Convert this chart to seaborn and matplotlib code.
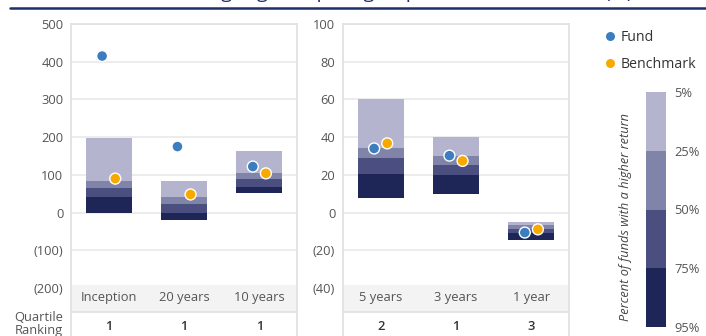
import numpy as np
import pandas as pd
import seaborn as sns
import matplotlib.pyplot as plt
from matplotlib.lines import Line2D
from matplotlib.transforms import blended_transform_factory

# ---- data ----
periods_long = ["Inception", "20 years", "10 years"]
periods_short = ["5 years", "3 years", "1 year"]
periods = periods_long + periods_short

p95 = [0, -21, 53, 7.5, 9.7, -14.3]
p75 = [40, 0, 69, 20.5, 20, -11]
p50 = [64, 24, 88, 29, 25, -8.5]
p25 = [85, 40, 106, 34.5, 30, -6.7]
p5 = [197, 85, 162, 60, 40, -4.8]

fund = [415, 175, 122, 34, 30.2, -10.6]
benchmark = [90, 48, 104, 36.7, 27.4, -8.9]
quartile = [1, 1, 1, 2, 1, 3]

left_ticks = [-200, -100, 0, 100, 200, 300, 400, 500]
right_ticks = [-40, -20, 0, 20, 40, 60, 80, 100]
band_labels = ["5%", "25%", "50%", "75%", "95%"]

title = "Performance rankings against peer group, annualised returns (%)"

# ---- style ----
W, H = 706, 336
band_colors = ["#1d2657", "#4a4f80", "#8184a9", "#b4b4cf"]
FUND_C = "#3b7dbf"
BENCH_C = "#f7a900"
GRID_C = "#ebebeb"
FRAME_C = "#e2e2e2"
TEXT_C = "#555555"
NAVY = "#1f2f6e"

sns.set_theme(style="white")
plt.rcParams['font.family'] = ['Open Sans', 'DejaVu Sans']

fig = plt.figure(figsize=(W / 100, H / 100), dpi=100)


def px_axes(x0, x1, y0, y1):
    # pixel box (top-left origin) -> figure axes
    return fig.add_axes([x0 / W, (H - y1) / H, (x1 - x0) / W, (y1 - y0) / H])


def fmt(v):
    return f"({abs(v)})" if v < 0 else f"{v}"


def yfrac(py):
    # axes fraction for a pixel row (axes span rows 24..336)
    return (H - py) / (H - 24)


def draw_panel(ax, idx, ticks, top, bottom_val):
    n = len(idx)
    xs = np.arange(n)
    # stacked percentile boxes
    lows = [p95, p75, p50, p25]
    highs = [p75, p50, p25, p5]
    for lo, hi, c in zip(lows, highs, band_colors):
        b = np.array([lo[i] for i in idx])
        h = np.array([hi[i] for i in idx]) - b
        ax.bar(xs, h, bottom=b, width=0.61, color=c, linewidth=0, zorder=2)

    df = pd.DataFrame({
        "x": np.concatenate([xs - 0.087, xs + 0.087]),
        "value": [fund[i] for i in idx] + [benchmark[i] for i in idx],
        "series": ["Fund"] * n + ["Benchmark"] * n,
    })
    sns.scatterplot(data=df, x="x", y="value", hue="series",
                    palette={"Fund": FUND_C, "Benchmark": BENCH_C},
                    s=62, edgecolor="white", linewidth=1.0,
                    legend=False, ax=ax, zorder=3)

    ax.set_xlim(-0.5, n - 0.5)
    ax.set_ylim(bottom_val, top)
    ax.set_yticks(ticks)
    ax.set_yticklabels([fmt(t) for t in ticks])
    ax.set_xticks([])
    ax.set_xlabel("")
    ax.set_ylabel("")
    ax.tick_params(axis="y", length=0, pad=5.5, labelsize=9.3, labelcolor=TEXT_C)
    ax.set_axisbelow(True)
    ax.yaxis.grid(True, color=GRID_C, linewidth=1.3)
    for s in ["left", "right", "top"]:
        ax.spines[s].set_color(FRAME_C)
        ax.spines[s].set_linewidth(1.3)
    ax.spines["bottom"].set_visible(False)

    # category band and quartile row underneath the plot area
    tr = blended_transform_factory(ax.transData, ax.transAxes)
    ax.fill_between([-0.5, n - 0.5], yfrac(312), yfrac(285), transform=tr,
                    color="#f3f3f3", linewidth=0, zorder=1)
    ax.plot([-0.5, n - 0.5], [yfrac(312)] * 2, transform=tr,
            color=FRAME_C, linewidth=1.2, zorder=1)
    for k, i in enumerate(idx):
        ax.text(k, yfrac(298), periods[i], transform=tr, ha="center",
                va="center", fontsize=9.3, color=TEXT_C)
        ax.text(k, yfrac(326), str(quartile[i]), transform=tr, ha="center",
                va="center", fontsize=9.3, color="#333333", fontweight="semibold")


ax1 = px_axes(71, 297, 24, 336)
draw_panel(ax1, [0, 1, 2], left_ticks, 500, 500 - 312 / (264 / 700))
ax2 = px_axes(343, 569, 24, 336)
draw_panel(ax2, [3, 4, 5], right_ticks, 100, 100 - 312 / (264 / 140))

fig.text(63 / W, (H - 324) / H, "Quartile\nRanking", ha="right", va="center",
         fontsize=9.3, color=TEXT_C, linespacing=1.05)

# title (mostly cut off by the top edge, as in the source) and rule
fig.text(40 / W, 1 + 2 / H, title, ha="left", va="baseline",
         fontsize=14, color=NAVY)
fig.add_artist(Line2D([10 / W, 1], [1 - 8 / H] * 2, transform=fig.transFigure,
                      color=NAVY, linewidth=1.8))

# legend for points
handles = [
    Line2D([], [], marker="o", linestyle="", markersize=7.5,
           markerfacecolor=FUND_C, markeredgecolor="white", label="Fund"),
    Line2D([], [], marker="o", linestyle="", markersize=7.5,
           markerfacecolor=BENCH_C, markeredgecolor="white", label="Benchmark"),
]
fig.legend(handles=handles, loc="upper left",
           bbox_to_anchor=(604 / W, 1 - 30 / H), frameon=False,
           fontsize=10.2, labelcolor="#333333", handlelength=0.8,
           handletextpad=0.4, borderpad=0, borderaxespad=0, labelspacing=0.85)

# percentile scale
axs = px_axes(646, 666, 92, 327)
for k, c in enumerate(band_colors):
    axs.bar(0, 1, bottom=k, width=1, color=c, linewidth=0)
axs.set_xlim(-0.5, 0.5)
axs.set_ylim(0, 4)
axs.set_xticks([])
axs.set_yticks([4, 3, 2, 1, 0])
axs.set_yticklabels(band_labels)
axs.yaxis.tick_right()
axs.tick_params(axis="y", length=0, pad=6, labelsize=9.3, labelcolor=TEXT_C)
for s in axs.spines.values():
    s.set_visible(False)
fig.text(625 / W, (H - 217) / H, "Percent of funds with a higher return",
         rotation=90, ha="center", va="center", fontsize=9.2, style="italic",
         color="#444444")

fig.savefig("out.png", dpi=100)
